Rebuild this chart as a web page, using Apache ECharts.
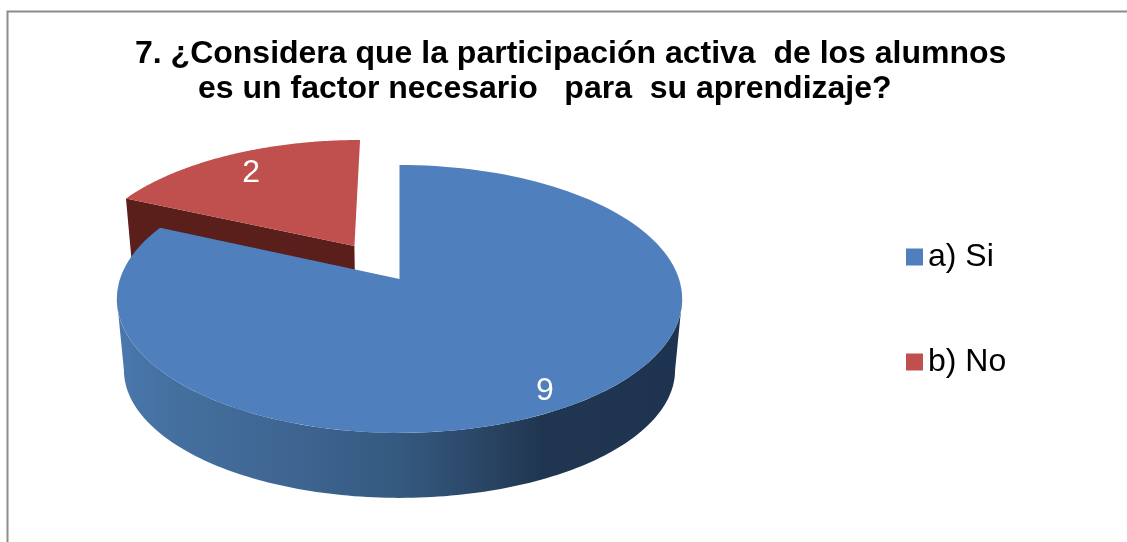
<!DOCTYPE html>
<html>
<head>
<meta charset="utf-8">
<style>html,body{margin:0;padding:0;background:#fff}#c{width:1127px;height:542px}</style>
<script src="https://cdn.jsdelivr.net/npm/echarts@6/dist/echarts.min.js"></script>
</head>
<body>
<div id="c"></div>
<script>
const titleLines = ['7. ¿Considera que la participación activa  de los alumnos', 'es un factor necesario   para  su aprendizaje?'];
const categories = ['a) Si', 'b) No'];
const values = [9, 2];
const topColors = ['#4f7fbc', '#c0504d'];
const explode = [0, 0.31];
const labelRadius = [0.88, 0.8];
const labelNudge = [[-4, 3], [-1, 2]];

const total = values.reduce((a, b) => a + b, 0);
const chart = echarts.init(document.getElementById('c'));

// perspective view of the pie disc: (u, v) in unit-disc space; depth 1 = underside
function project(u, v, depth) {
  const w = 0.149 * v + 1;
  const x = 399.5 + 279.5 * u / w, y = (279 - 89.4 * v) / w;
  if (!depth) return [x, y];
  return [399.5 + 0.975 * (x - 399.5), 370 + 0.955 * (y - 299)];
}
function disc(angleDeg, r, ex, mid) {
  const a = angleDeg * Math.PI / 180, m = mid * Math.PI / 180;
  return [r * Math.sin(a) + ex * Math.sin(m), r * Math.cos(a) + ex * Math.cos(m)];
}
function arc(from, to, ex, mid, depth) {
  const pts = [], n = 140;
  for (let i = 0; i <= n; i++) {
    const p = disc(from + (to - from) * i / n, 1, ex, mid);
    pts.push(project(p[0], p[1], depth));
  }
  return pts;
}
function sliceAngles(idx) {
  let s = 0;
  for (let i = 0; i < idx; i++) s += values[i];
  return [s / total * 360, (s + values[idx]) / total * 360];
}
function renderSlice(idx) {
  return function (params, api) {
    const value = api.value(0);
    const ang = sliceAngles(idx), from = ang[0], to = from + value / total * 360;
    const mid = (from + to) / 2, ex = explode[idx];
    const apex = disc(0, 0, ex, mid);
    const top0 = project(apex[0], apex[1], 0);
    const children = [];
    if (idx === 0) {
      const a0 = Math.max(from, 98.6), a1 = Math.min(to, 261.4);
      const wall = arc(a0, a1, ex, mid, 0).concat(arc(a0, a1, ex, mid, 1).reverse());
      children.push({
        type: 'polygon', shape: { points: wall },
        style: {
          fill: new echarts.graphic.LinearGradient(0, 0, 1, 0, [
            { offset: 0, color: '#4a78ae' }, { offset: 0.1, color: '#44709f' },
            { offset: 0.3, color: '#3f6592' }, { offset: 0.5, color: '#345a80' },
            { offset: 0.65, color: '#2a4564' }, { offset: 0.75, color: '#203650' },
            { offset: 1, color: '#1e3350' }
          ])
        }
      });
    } else {
      const p0 = project(apex[0], apex[1], 1);
      const corner = arc(from, from, ex, mid, 0)[0], cornerB = arc(from, from, ex, mid, 1)[0];
      children.push({ type: 'polygon', shape: { points: [top0, corner, cornerB, p0] }, style: { fill: '#5a1f1b' } });
    }
    children.push({
      type: 'polygon',
      shape: { points: [top0].concat(arc(from, to, ex, mid, 0)) },
      style: { fill: topColors[idx] }
    });
    const lp = disc(mid, labelRadius[idx], ex, mid);
    const lxy = project(lp[0], lp[1], 0);
    children.push({
      type: 'text', x: lxy[0] + labelNudge[idx][0], y: lxy[1] + labelNudge[idx][1],
      style: { text: String(value), fill: '#fff', font: '32px "Liberation Sans", Arial, sans-serif', align: 'center', verticalAlign: 'middle' }
    });
    return { type: 'group', children: children };
  };
}

chart.setOption({
  animation: false,
  backgroundColor: '#fff',
  title: [
    { text: titleLines[0], left: 130, top: 33, textStyle: { fontFamily: 'Liberation Sans', fontWeight: 'bold', fontSize: 32, color: '#000' } },
    { text: titleLines[1], left: 193, top: 68, textStyle: { fontFamily: 'Liberation Sans', fontWeight: 'bold', fontSize: 32, color: '#000' } }
  ],
  legend: {
    orient: 'vertical', left: 901, top: 236, itemWidth: 17, itemHeight: 17, itemGap: 73,
    icon: 'rect', data: categories,
    textStyle: { fontFamily: 'Liberation Sans', fontSize: 32, color: '#000' }
  },
  graphic: [{
    type: 'rect', left: 5, top: 9, z: -1, silent: true,
    shape: { width: 1200, height: 600 },
    style: { fill: 'none', stroke: '#8c8c8c', lineWidth: 2 }
  }],
  series: [
    { type: 'custom', name: categories[1], coordinateSystem: 'none', z: 2, silent: true,
      itemStyle: { color: topColors[1] }, renderItem: renderSlice(1), data: [[values[1]]] },
    { type: 'custom', name: categories[0], coordinateSystem: 'none', z: 3, silent: true,
      itemStyle: { color: topColors[0] }, renderItem: renderSlice(0), data: [[values[0]]] }
  ]
});
</script>
</body>
</html>
